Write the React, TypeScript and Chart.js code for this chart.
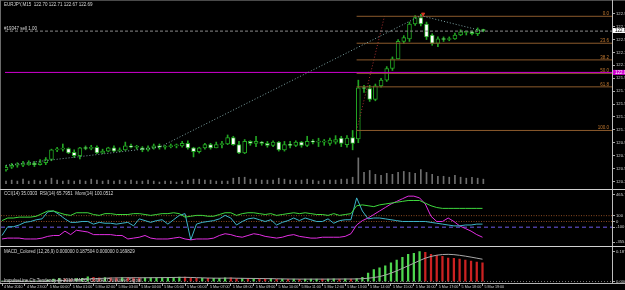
import { useEffect, useRef } from 'react';
import { Chart, registerables } from 'chart.js';

Chart.register(...registerables);

// ---------- price data (EURJPY M15, bar 0 = 4 Mar 22:00) ----------
const opens = [120.53,120.57,120.60,120.60,120.61,120.63,120.61,120.64,120.69,120.84,
  120.85,120.86,120.80,120.75,120.87,120.86,120.88,120.79,120.82,120.87,
  120.82,120.84,120.90,120.88,120.87,120.84,120.87,120.90,120.88,120.89,
  120.90,120.90,120.94,120.87,120.81,120.87,120.92,120.87,120.92,120.93,
  121.03,120.92,120.79,120.97,120.94,120.96,120.94,120.91,120.96,120.84,
  120.92,120.91,120.96,120.91,120.97,120.96,120.96,120.94,120.96,121.02,
  120.92,121.03,121.01,121.80,121.79,121.62,121.83,121.92,122.10,122.25,
  122.52,122.56,122.79,122.89,122.79,122.62,122.49,122.56,122.55,122.56,
  122.62,122.66,122.67,122.64,122.70];
const highs = [120.60,120.63,120.64,120.66,120.67,120.66,120.69,120.72,120.85,120.88,
  120.93,120.87,120.84,120.88,120.90,120.91,120.90,120.85,120.88,120.90,
  120.87,120.96,120.93,120.91,120.89,120.90,120.93,120.93,120.91,120.93,
  120.93,120.97,120.98,120.88,120.88,120.94,120.94,120.96,120.97,121.07,
  121.05,120.97,121.00,120.98,121.05,120.97,120.97,120.98,120.97,120.97,
  120.97,120.98,120.97,121.05,121.00,121.02,121.00,121.02,121.06,121.05,
  121.06,121.14,121.92,121.84,121.84,121.86,121.95,122.13,122.28,122.55,
  122.61,122.82,122.92,122.94,122.82,122.64,122.59,122.59,122.59,122.65,
  122.70,122.68,122.68,122.73,122.71];
const lows = [120.51,120.55,120.57,120.58,120.60,120.58,120.60,120.61,120.67,120.81,
  120.82,120.78,120.72,120.70,120.84,120.84,120.78,120.78,120.81,120.81,
  120.81,120.83,120.87,120.85,120.81,120.82,120.85,120.85,120.85,120.87,
  120.87,120.88,120.85,120.73,120.79,120.85,120.85,120.87,120.87,120.92,
  120.91,120.78,120.78,120.91,120.89,120.91,120.88,120.89,120.82,120.82,
  120.87,120.89,120.88,120.89,120.93,120.89,120.91,120.91,120.93,120.89,
  120.88,120.84,120.95,121.73,121.59,121.60,121.81,121.90,122.07,122.25,
  122.49,122.52,122.77,122.76,122.55,122.46,122.44,122.52,122.53,122.55,
  122.61,122.62,122.62,122.61,122.67];
const closes = [120.57,120.60,120.60,120.61,120.63,120.61,120.64,120.69,120.84,120.85,
  120.86,120.79,120.75,120.87,120.86,120.88,120.79,120.82,120.87,120.82,
  120.84,120.90,120.88,120.88,120.84,120.87,120.90,120.88,120.89,120.90,
  120.90,120.94,120.87,120.81,120.87,120.92,120.87,120.92,120.92,121.03,
  120.92,120.79,120.97,120.94,120.97,120.94,120.91,120.96,120.84,120.92,
  120.91,120.96,120.91,120.97,120.96,120.96,120.96,120.99,121.00,120.94,
  121.02,120.94,121.80,121.79,121.62,121.83,121.92,122.10,122.25,122.52,
  122.58,122.79,122.89,122.79,122.59,122.49,122.56,122.55,122.56,122.62,
  122.67,122.66,122.64,122.70,122.69];
const volumes = [120,160,120,200,120,160,120,160,240,160,120,160,120,160,120,200,160,120,160,120,160,
  120,160,120,120,160,120,80,120,120,80,120,160,200,200,160,160,120,120,120,240,
  280,280,200,200,160,160,160,240,200,160,160,160,200,160,120,160,160,160,200,200,280,
  1080,480,560,400,360,440,400,480,520,480,440,600,480,400,320,320,280,360,280,240,280,240,200];

// ---------- indicator window (CCI / RSI / Momentum) ----------
const rsiValues = [15,60,60,75,75,75,90,135,180,180, 150,120,105,150,150,150,120,105,135,135,
  120,120,120,135,135,120,105,120,135,135, 150,135,75,90,105,105,90,90,120,150,
  150,105,135,150,150,135,120,135,105,120, 135,150,135,150,135,120,120,105,135,105,
  120,135,270,285,270,255,285,300,315,330, 345,360,360,360,315,270,240,225,225,225,
  225,225,225,225,225];
const cciValues = [-240,-90,-90,-60,-15,0,30,45,165,180, 120,45,-15,-15,0,0,-45,-15,-30,-30,
  -45,-30,-15,-75,45,15,-15,15,30,-45, 30,105,135,-315,-45,-15,0,15,45,105,
  60,-60,0,45,60,30,0,30,-60,-15, 15,60,15,60,30,0,0,45,-30,15,
  30,30,405,180,45,60,60,45,30,15, 0,0,0,0,0,-15,-30,-45,-60,-75,
  -75,-60,-60,-45,-45];
const momValues = [-300,-285,-285,-285,-300,-300,-300,-285,-255,-240, -240,-165,-225,-150,-165,-180,-225,-225,-225,-225,
  -240,-240,-300,-285,-270,-240,-285,-300,-300,-300, -285,-270,-300,-315,-300,-300,-300,-285,-240,-210,
  -225,-255,-270,-240,-210,-225,-255,-270,-285,-270, -240,-225,-255,-270,-285,-285,-270,-270,-270,-270,
  -255,-210,-60,15,60,120,180,240,300,345, 390,435,435,405,300,90,0,0,60,0,
  -75,-120,-165,-225,-270];
const panelLevels = [100, 0, -100];
const panelTicks = [465.793, 100, 0, -100, -355.23];

// ---------- MACD window ----------
const macdHist = [0.0012,0.0012,0.0018,0.0018,0.0018,0.0018,0.0024,0.003,0.009,0.015,
  0.018,0.015,0.012,0.018,0.021,0.030,0.027,0.024,0.0252,0.024,
  0.0228,0.0258,0.0252,0.0246,0.0234,0.0237,0.0252,0.0258,0.0258,0.0264,
  0.027,0.0288,0.0276,0.0228,0.0204,0.021,0.0198,0.0204,0.021,0.024,
  0.0234,0.018,0.0186,0.018,0.0192,0.0186,0.0174,0.018,0.0144,0.015,
  0.0144,0.0156,0.0144,0.0156,0.0156,0.0156,0.015,0.0162,0.0174,0.0156,
  0.0174,0.0156,0.018,0.027,0.0528,0.075,0.087,0.099,0.117,0.135,
  0.153,0.171,0.177,0.189,0.183,0.171,0.165,0.159,0.147,0.1452,
  0.141,0.135,0.129,0.123,0.117];
const macdSignal = [0.0018,0.0018,0.0018,0.0018,0.0018,0.0018,0.0018,0.0018,0.0018,0.0036,
  0.006,0.0078,0.009,0.0108,0.0126,0.015,0.0174,0.0192,0.021,0.0222,
  0.0228,0.0234,0.024,0.024,0.024,0.024,0.0243,0.0246,0.0249,0.0252,
  0.0258,0.0264,0.0267,0.0258,0.0246,0.0234,0.0222,0.0216,0.0213,0.0216,
  0.0219,0.021,0.0204,0.0198,0.0195,0.0192,0.0186,0.0183,0.0174,0.0168,
  0.0162,0.0159,0.0156,0.0156,0.0156,0.0156,0.0156,0.0156,0.0159,0.0159,
  0.0162,0.0162,0.0168,0.018,0.021,0.0252,0.0312,0.0408,0.0528,0.0672,
  0.0828,0.099,0.1152,0.132,0.147,0.1578,0.1656,0.1698,0.171,0.1692,
  0.165,0.1596,0.1536,0.147,0.1404];
const macdTicks = [0.1875, 0];

// ---------- axes / objects ----------
const priceTicks = [122.95,122.75,122.55,122.35,122.15,121.95,121.75,121.55,121.35,121.15,120.95,120.75,120.55,120.35];
const timeTickBars = [0,4,8,12,16,20,24,28,32,36,40,44,48,52,56,60,64,68,72,76,80,84];
const timeLabels = ['4 Mar 2010','4 Mar 23:00','5 Mar 00:00','5 Mar 01:00','5 Mar 02:00','5 Mar 03:00','5 Mar 04:00',
  '5 Mar 05:00','5 Mar 06:00','5 Mar 07:00','5 Mar 08:00','5 Mar 09:00','5 Mar 10:00','5 Mar 11:00','5 Mar 12:00',
  '5 Mar 13:00','5 Mar 14:00','5 Mar 15:00','5 Mar 16:00','5 Mar 17:00','5 Mar 18:00','5 Mar 19:00'];
const zigzagBars = [0, 27, 73, 84];
const zigzagPrices = [120.60, 120.88, 122.92, 122.68];
const fibHigh = 122.91;
const fibLow = 121.14;
const fibLevels = [0, 23.6, 38.2, 50, 61.8, 100];
const fibStartBar = 61.7;
const fibTopBar = 66.6;
const levelPrice = 122.04;
const orderPrice = 122.68;
const arrowBar = 73.4;
const arrowPrice = 122.945;

const X_MIN = -0.175;
const X_MAX = 106.64;
const FONT = '"Liberation Sans", Arial, sans-serif';
const GREEN = '#22a522';

const xAxisHidden = { type: 'linear', min: X_MIN, max: X_MAX, display: false, offset: false, grid: { offset: false } };

const rightAxis = (min: number, max: number, ticks: number[], fmt: (v: number) => string) => ({
  position: 'right',
  min, max,
  afterFit: (s: any) => { s.width = 13; },
  afterBuildTicks: (s: any) => { s.ticks = ticks.map((v) => ({ value: v })); },
  grid: { drawOnChartArea: false, drawTicks: true, tickLength: 3, color: '#a8a8a8' },
  border: { display: false },
  ticks: { color: '#d0d0d0', font: { size: 4.2, family: FONT }, padding: 1, autoSkip: false, callback: (v: any) => fmt(Number(v)) },
});

const hLine = (y: number, color: string, dash: number[] = [], x0 = X_MIN, x1 = X_MAX, width = 1) => ({
  type: 'line', data: [{ x: x0, y }, { x: x1, y }], borderColor: color, borderWidth: width,
  borderDash: dash, pointRadius: 0, order: 1,
});

const baseOpts = {
  responsive: false,
  animation: false,
  devicePixelRatio: 1,
  events: [],
  plugins: { legend: { display: false }, tooltip: { enabled: false } },
};

function mainConfig(): any {
  const bull = closes.map((c, i) => c >= opens[i]);
  const fibPrice = (r: number) => fibHigh - (fibHigh - fibLow) * r / 100;
  const textPlugin = {
    id: 'mainText',
    afterDraw(chart: any) {
      const ctx = chart.ctx; const y = chart.scales.y;
      ctx.save();
      ctx.font = `4.5px ${FONT}`; ctx.fillStyle = '#d8d8d8'; ctx.textBaseline = 'middle'; ctx.textAlign = 'left';
      ctx.fillText(`EURJPY,M15  ${opens[84].toFixed(2)} ${highs[84].toFixed(2)} ${lows[84].toFixed(2)} ${closes[84].toFixed(2)}`, 4, 5);
      ctx.fillText('#19347 sell 1.00', 4, y.getPixelForValue(orderPrice) - 2.5);
      ctx.textAlign = 'right'; ctx.textBaseline = 'bottom'; ctx.fillStyle = '#c47a30';
      fibLevels.forEach((r) => ctx.fillText(r.toFixed(1), 609, y.getPixelForValue(fibPrice(r)) - 0.3));
      const box = (v: number, bg: string, fg: string) => {
        const py = y.getPixelForValue(v);
        ctx.fillStyle = bg; ctx.fillRect(612.5, py - 2.5, 13, 5);
        ctx.fillStyle = fg; ctx.textAlign = 'left'; ctx.textBaseline = 'middle';
        ctx.fillText(v.toFixed(2), 615, py);
      };
      box(closes[84], '#ffffff', '#000000');
      box(levelPrice, '#d000d0', '#ffffff');
      ctx.restore();
    },
  };
  return {
    type: 'bar',
    data: {
      datasets: [
        { type: 'line', data: [{ x: arrowBar, y: arrowPrice }], showLine: false, pointStyle: 'triangle', rotation: 180,
          pointRadius: 1.8, backgroundColor: '#e03a20', borderColor: '#e03a20', order: 0 },
        { type: 'line', data: zigzagBars.map((b, i) => ({ x: b, y: zigzagPrices[i] })), borderColor: '#7ea3a3',
          borderWidth: 1, borderDash: [1, 2], pointRadius: 0, order: 0 },
        hLine(levelPrice, '#d000d0'),
        hLine(orderPrice, '#8a8a8a', [3, 2]),
        ...fibLevels.map((r) => hLine(fibPrice(r), '#8c5a2c', [], fibStartBar, X_MAX)),
        { type: 'line', data: [{ x: fibStartBar, y: fibLow }, { x: fibTopBar, y: fibHigh }], borderColor: '#a83030',
          borderWidth: 1, borderDash: [1, 2], pointRadius: 0, order: 1 },
        { label: 'bodies', data: opens.map((o, i) => ({ x: i, y: [o, closes[i]] })),
          backgroundColor: bull.map((b) => (b ? '#000000' : '#ffffff')), borderColor: GREEN, borderWidth: 1,
          borderSkipped: false, barThickness: 4, minBarLength: 1, grouped: false, order: 2 },
        { label: 'wicks', data: lows.map((l, i) => ({ x: i, y: [l, highs[i]] })), backgroundColor: GREEN,
          barThickness: 1, grouped: false, order: 3 },
        { label: 'volume', data: volumes.map((v, i) => ({ x: i, y: v })), yAxisID: 'vol', backgroundColor: '#6e6e6e',
          barThickness: 1, grouped: false, order: 4 },
      ],
    },
    options: {
      ...baseOpts,
      layout: { padding: { left: 1, top: 2, bottom: 2, right: 0 } },
      scales: {
        x: xAxisHidden,
        y: rightAxis(120.31, 123.085, priceTicks, (v) => v.toFixed(2)),
        vol: { display: false, min: 0, max: 7400 },
      },
    },
    plugins: [textPlugin],
  };
}

function indicatorConfig(): any {
  const pts = (arr: number[]) => arr.map((v, i) => ({ x: i, y: v }));
  const line = (arr: number[], color: string) => ({ type: 'line', data: pts(arr), borderColor: color, borderWidth: 1, pointRadius: 0, order: 0 });
  const textPlugin = {
    id: 'indText',
    afterDraw(chart: any) {
      const ctx = chart.ctx;
      ctx.save();
      ctx.font = `4.5px ${FONT}`; ctx.fillStyle = '#d8d8d8'; ctx.textBaseline = 'middle'; ctx.textAlign = 'left';
      ctx.fillText('CCI(14) 35.0303  RSI(14) 65.7951  Mom(14) 100.0512', 4, 3.5);
      ctx.restore();
    },
  };
  return {
    type: 'line',
    data: {
      datasets: [
        hLine(panelLevels[0], '#8a4a22', [1, 1.5]),
        hLine(panelLevels[1], '#8a4a22', [1, 1.5]),
        hLine(panelLevels[2], '#4a3c9c', [4, 3], X_MIN, X_MAX, 1.5),
        line(rsiValues, '#3ed83e'),
        line(cciValues, '#3cb4c8'),
        line(momValues, '#e22ee2'),
      ],
    },
    options: {
      ...baseOpts,
      layout: { padding: { left: 1, top: 0, bottom: 0, right: 0 } },
      scales: {
        x: xAxisHidden,
        y: rightAxis(-360, 480, panelTicks, (v) => (Number.isInteger(v) ? String(v) : v.toFixed(4))),
      },
    },
    plugins: [textPlugin],
  };
}

function macdConfig(): any {
  const colors = macdHist.map((v, i) => (i === 0 || v >= macdHist[i - 1] ? '#4fd84f' : '#cc2222'));
  const textPlugin = {
    id: 'macdText',
    afterDraw(chart: any) {
      const ctx = chart.ctx;
      ctx.save();
      ctx.font = `4.5px ${FONT}`; ctx.fillStyle = '#d8d8d8'; ctx.textBaseline = 'middle'; ctx.textAlign = 'left';
      ctx.fillText('MACD_Colored (12,26,9) 0.000000 0.187504 0.000000 0.169829', 4, 5);
      ctx.fillText('ImpulseLine Ctr Tendency @ 2010 MACD_Colored Crossover Signal', 4, 34);
      ctx.restore();
    },
  };
  return {
    type: 'bar',
    data: {
      datasets: [
        { type: 'line', data: macdSignal.map((v, i) => ({ x: i, y: v })), borderColor: '#a8a8a8', borderWidth: 1, pointRadius: 0, order: 0 },
        hLine(0, '#7a7a7a', [1, 2]),
        { data: macdHist.map((v, i) => ({ x: i, y: v })), backgroundColor: colors, barThickness: 1.6, grouped: false, order: 2 },
      ],
    },
    options: {
      ...baseOpts,
      layout: { padding: { left: 1, top: 2, bottom: 0, right: 0 } },
      scales: {
        x: {
          type: 'linear', min: X_MIN, max: X_MAX, position: 'bottom', offset: false,
          afterFit: (s: any) => { s.height = 7; },
          afterBuildTicks: (s: any) => { s.ticks = timeTickBars.map((v) => ({ value: v })); },
          grid: { drawOnChartArea: false, drawTicks: true, tickLength: 3, color: '#a8a8a8', offset: false },
          border: { display: false },
          ticks: {
            color: '#d0d0d0', font: { size: 3.7, family: FONT }, padding: -1, align: 'start', labelOffset: 2,
            maxRotation: 0, minRotation: 0, autoSkip: false,
            callback: (v: any) => timeLabels[timeTickBars.indexOf(Number(v))],
          },
        },
        y: rightAxis(-0.009, 0.195, macdTicks, (v) => v.toFixed(4)),
      },
    },
    plugins: [textPlugin],
  };
}

export default function App() {
  const mainRef = useRef<HTMLCanvasElement>(null);
  const indRef = useRef<HTMLCanvasElement>(null);
  const macdRef = useRef<HTMLCanvasElement>(null);

  useEffect(() => {
    const charts = [
      new Chart(mainRef.current as HTMLCanvasElement, mainConfig()),
      new Chart(indRef.current as HTMLCanvasElement, indicatorConfig()),
      new Chart(macdRef.current as HTMLCanvasElement, macdConfig()),
    ];
    return () => charts.forEach((c) => c.destroy());
  }, []);

  const line = (style: any) => <div style={{ position: 'absolute', ...style }} />;

  return (
    <div style={{ position: 'fixed', left: 0, top: 0, width: 625, height: 290, background: '#000', overflow: 'hidden' }}>
      <canvas ref={mainRef} width={625} height={189} style={{ position: 'absolute', left: 0, top: 0 }} />
      <canvas ref={indRef} width={625} height={56} style={{ position: 'absolute', left: 0, top: 190 }} />
      <canvas ref={macdRef} width={625} height={43} style={{ position: 'absolute', left: 0, top: 247 }} />
      {line({ left: 0, top: 0, width: 625, height: 1, background: '#4a4a4a' })}
      {line({ left: 0, top: 0, width: 1, height: 283, background: '#6a6a6a' })}
      {line({ left: 612, top: 0, width: 1, height: 283, background: '#bdbdbd' })}
      {line({ left: 0, top: 189, width: 625, height: 1, background: '#d0d0d0' })}
      {line({ left: 0, top: 246, width: 625, height: 1, background: '#d0d0d0' })}
      {line({ left: 0, top: 283, width: 625, height: 1, background: '#b5b5b5' })}
    </div>
  );
}
